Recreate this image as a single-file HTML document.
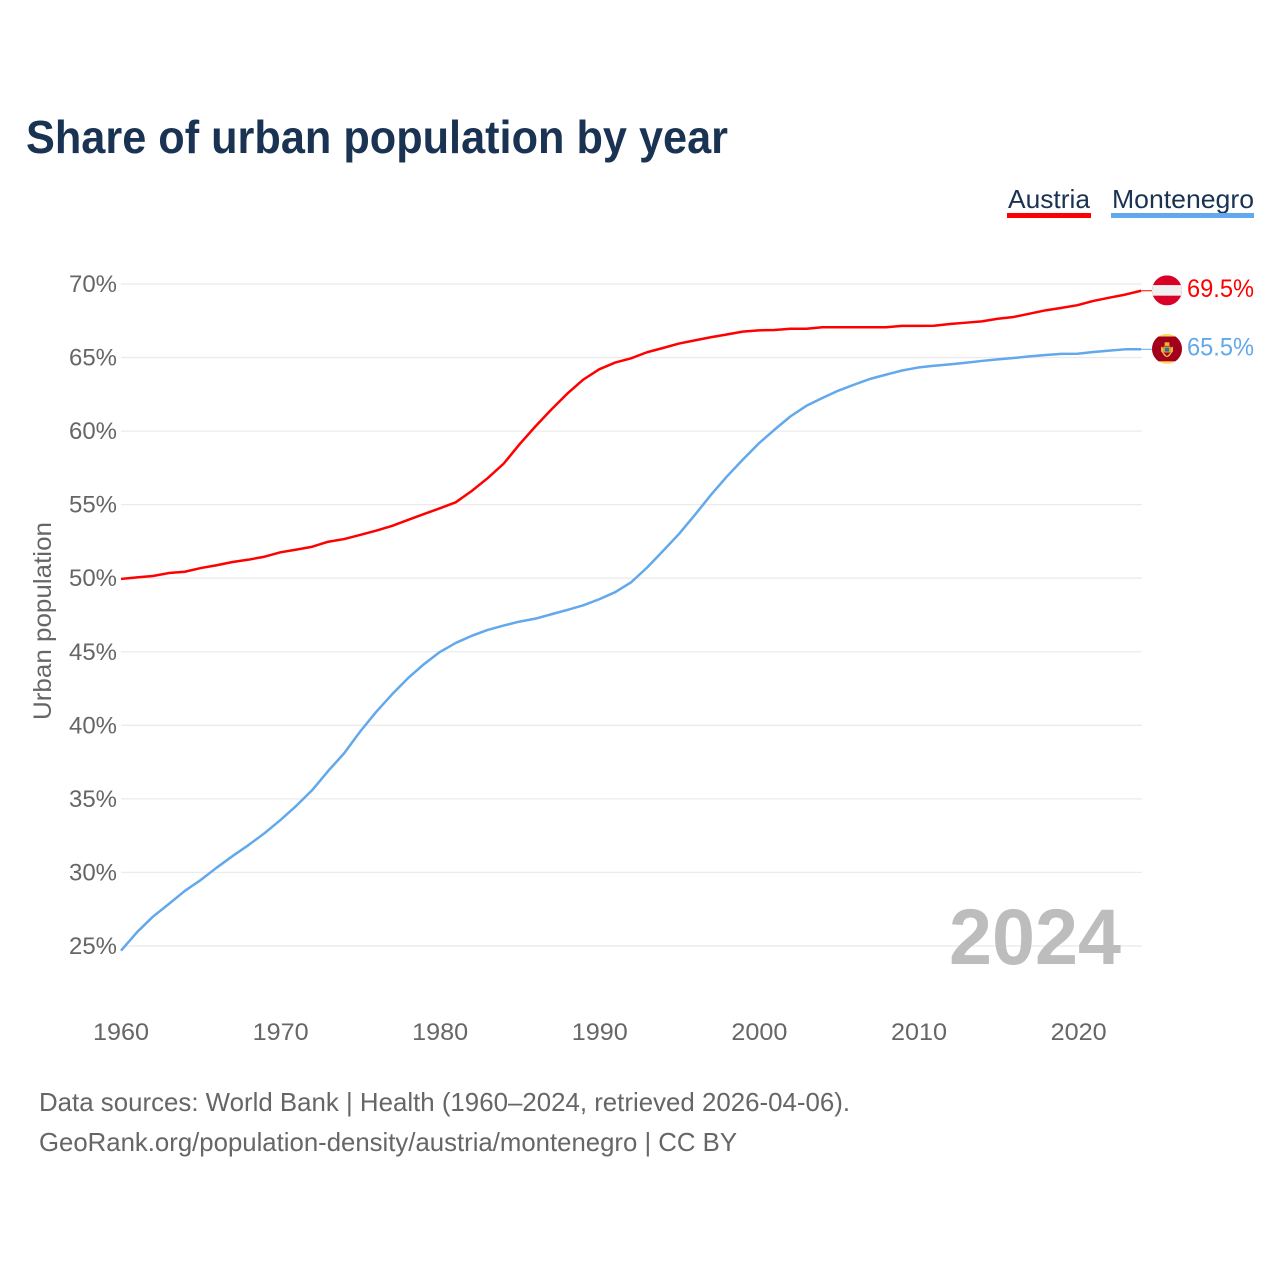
<!DOCTYPE html>
<html lang="en">
<head>
<meta charset="utf-8">
<title>Share of urban population by year</title>
<style>
html,body{margin:0;padding:0;background:#fff;}
svg{display:block;font-family:"Liberation Sans",sans-serif;}
</style>
</head>
<body>
<svg id="chart" xmlns="http://www.w3.org/2000/svg" width="1280" height="1280" viewBox="0 0 1280 1280">
  <rect x="0" y="0" width="1280" height="1280" fill="#ffffff"/>
  <text x="26" y="153" font-size="46" font-weight="700" fill="#1a3353" textLength="702" lengthAdjust="spacingAndGlyphs">Share of urban population by year</text>

  <g>
    <text x="1008" y="208" font-size="26" fill="#1a3353" textLength="82" lengthAdjust="spacingAndGlyphs">Austria</text>
    <rect x="1007" y="213" width="84" height="5" fill="#ff0000"/>
  </g>
  <g>
    <text x="1112" y="208" font-size="26" fill="#1a3353" textLength="142" lengthAdjust="spacingAndGlyphs">Montenegro</text>
    <rect x="1111" y="213" width="143" height="5" fill="#62a8ec"/>
  </g>

  <g id="grid"></g>
  <g id="yticks"></g>
  <g id="xticks"></g>

  <text transform="translate(51 720) rotate(-90)" x="0" y="0" font-size="25" fill="#666666" textLength="198" lengthAdjust="spacingAndGlyphs">Urban population</text>

  <text x="949" y="964" font-size="79" font-weight="700" fill="#bdbdbd" textLength="172" lengthAdjust="spacingAndGlyphs">2024</text>

  <g id="series"></g>

  <g id="flag-austria">
    <clipPath id="clip-at"><circle cx="0" cy="0" r="15"/></clipPath>
    <g clip-path="url(#clip-at)">
      <rect x="-15" y="-15" width="30" height="30" fill="#d80027"/>
      <rect x="-15" y="-5.3" width="30" height="10.6" fill="#f0f0f0"/>
    </g>
  </g>
  <g id="flag-montenegro">
    <clipPath id="clip-me"><circle cx="0" cy="0" r="15"/></clipPath>
    <g clip-path="url(#clip-me)">
      <rect x="-15" y="-15" width="30" height="30" fill="#ffda5c"/>
      <rect x="-15" y="-12.4" width="30" height="24.8" fill="#a2001d"/>
      <g transform="translate(0 0) scale(1.2)">
        <path d="M-5 -2 L-3 -1 L-3 3 L0 6 L3 3 L3 -1 L5 -2 L5 2 L2 6 L0 7 L-2 6 L-5 2 Z" fill="#e8b93a"/>
        <rect x="-2" y="-5.5" width="4" height="3" fill="#e8b93a"/>
        <rect x="-3" y="-2" width="6" height="5" fill="#d9a92e"/>
        <rect x="-1.7" y="-1" width="3.4" height="3.2" fill="#2f6ea8"/>
      </g>
    </g>
  </g>
  <g id="endlabels"></g>

  <text x="39" y="1111" font-size="26" fill="#666666" textLength="811" lengthAdjust="spacingAndGlyphs">Data sources: World Bank | Health (1960–2024, retrieved 2026-04-06).</text>
  <text x="39" y="1151" font-size="26" fill="#666666" textLength="698" lengthAdjust="spacingAndGlyphs">GeoRank.org/population-density/austria/montenegro | CC BY</text>
</svg>
<script>
const startYear = 1960;
const xTickYears = [1960, 1970, 1980, 1990, 2000, 2010, 2020];
const yTickValues = [25, 30, 35, 40, 45, 50, 55, 60, 65, 70];
const austriaValues = [
  49.95, 50.06, 50.15, 50.35, 50.44, 50.69, 50.88, 51.10, 51.26, 51.46,
  51.76, 51.94, 52.14, 52.48, 52.66, 52.94, 53.23, 53.55, 53.96, 54.36,
  54.75, 55.16, 55.93, 56.80, 57.78, 59.10, 60.32, 61.47, 62.55, 63.50,
  64.20, 64.66, 64.95, 65.36, 65.65, 65.95, 66.17, 66.38, 66.57, 66.76,
  66.85, 66.87, 66.96, 66.96, 67.06, 67.06, 67.06, 67.06, 67.06, 67.15,
  67.15, 67.16, 67.28, 67.37, 67.46, 67.64, 67.76, 67.98, 68.21, 68.38,
  68.56, 68.85, 69.07, 69.28, 69.54
];
const montenegroValues = [
  24.68, 25.93, 26.99, 27.85, 28.74, 29.48, 30.32, 31.11, 31.86, 32.66,
  33.56, 34.53, 35.60, 36.90, 38.10, 39.57, 40.90, 42.10, 43.20, 44.15,
  44.98, 45.60, 46.08, 46.48, 46.78, 47.05, 47.25, 47.55, 47.84, 48.16,
  48.57, 49.05, 49.72, 50.72, 51.85, 53.00, 54.30, 55.65, 56.90, 58.05,
  59.15, 60.10, 61.00, 61.72, 62.25, 62.75, 63.16, 63.55, 63.84, 64.12,
  64.32, 64.44, 64.54, 64.65, 64.77, 64.88, 64.97, 65.08, 65.17, 65.25,
  65.26, 65.38, 65.47, 65.56, 65.56
];
const austriaEndLabel = '69.5%';
const montenegroEndLabel = '65.5%';

const NS = 'http://www.w3.org/2000/svg';
function xScale(year) { return 121 + (year - 1960) * 15.94; }
function yScale(v) { return 578.2 - (v - 50) * 14.71; }
function make(tag, parent, attrs, text) {
  const el = document.createElementNS(NS, tag);
  for (const k in attrs) el.setAttribute(k, attrs[k]);
  if (text !== undefined) el.textContent = text;
  parent.appendChild(el);
  return el;
}

const gridG = document.getElementById('grid');
const yG = document.getElementById('yticks');
yTickValues.forEach(function (v) {
  const line = make('line', gridG, { x1: 121, x2: 1142, y1: yScale(v), y2: yScale(v), stroke: '#ebebeb', 'stroke-width': 1.3 });
  
  
  const label = make('text', yG, { x: 117, y: yScale(v) + 8, 'font-size': 24, fill: '#666666', 'text-anchor': 'end', textLength: 48, lengthAdjust: 'spacingAndGlyphs' }, v + '%');
  
  
});

const xG = document.getElementById('xticks');
xTickYears.forEach(function (yr) {
  const label = make('text', xG, { x: 121 + (yr - 1960) * 15.96, y: 1040, 'font-size': 24, fill: '#666666', 'text-anchor': 'middle', textLength: 56, lengthAdjust: 'spacingAndGlyphs' }, String(yr));
  
  
});

function drawSeries(values, color, name) {
  const g = document.getElementById('series');
  const d = values.map(function (v, i) {
    return (i ? 'L' : 'M') + xScale(startYear + i).toFixed(2) + ' ' + yScale(v).toFixed(2);
  }).join(' ');
  const path = make('path', g, { d: d, fill: 'none', stroke: color, 'stroke-width': 2.5, 'stroke-linejoin': 'round' });
  
  
  const lastY = yScale(values[values.length - 1]);
  const lastX = xScale(startYear + values.length - 1);
  const conn = make('line', g, { x1: lastX, x2: lastX + 11, y1: lastY, y2: lastY, stroke: color, 'stroke-width': 1 });
  
  
}
drawSeries(austriaValues, '#ff0000', 'austria');
drawSeries(montenegroValues, '#62a8ec', 'montenegro');

function placeEnd(values, flagId, text, color, name) {
  const y = yScale(values[values.length - 1]);
  document.getElementById(flagId).setAttribute('transform', 'translate(1167 ' + (y - 0.4).toFixed(2) + ')');
  const label = make('text', document.getElementById('endlabels'), { x: 1187, y: y + 6, 'font-size': 25, fill: color, textLength: 67, lengthAdjust: 'spacingAndGlyphs' }, text);
  
  
}
placeEnd(austriaValues, 'flag-austria', austriaEndLabel, '#ff0000', 'austria');
placeEnd(montenegroValues, 'flag-montenegro', montenegroEndLabel, '#62a8ec', 'montenegro');
</script>
</body>
</html>
